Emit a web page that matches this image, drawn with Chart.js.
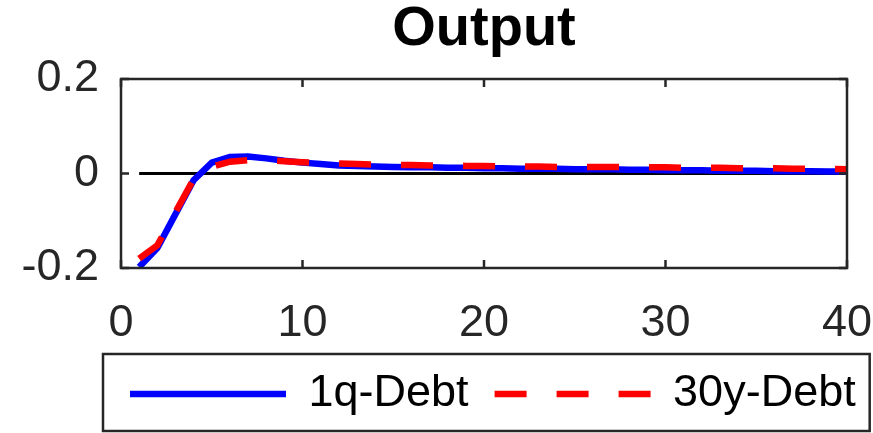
<!DOCTYPE html>
<html><head><meta charset="utf-8">
<script src="https://cdn.jsdelivr.net/npm/chart.js@4.4.1/dist/chart.umd.min.js"></script>
<style>html,body{margin:0;padding:0;background:#fff;overflow:hidden}</style>
</head><body>
<canvas id="c" width="873" height="433" style="display:block;width:873px;height:433px"></canvas>
<script>
const chartTitle = 'Output';
const periods = [1,2,3,4,5,6,7,8,9,10,11,12,13,14,15,16,17,18,19,20,21,22,23,24,25,26,27,28,29,30,31,32,33,34,35,36,37,38,39,40];
const debt1q = [-0.198,-0.158,-0.086,-0.014,0.023,0.035,0.036,0.032,0.027,0.023,0.020,0.017,0.016,0.015,0.014,0.013,0.013,0.012,0.012,0.011,0.011,0.010,0.010,0.010,0.009,0.009,0.009,0.008,0.008,0.007,0.007,0.007,0.006,0.006,0.006,0.005,0.005,0.005,0.004,0.004];
const debt30y = [-0.180,-0.152,-0.082,-0.012,0.014,0.025,0.028,0.028,0.026,0.024,0.022,0.021,0.020,0.019,0.018,0.018,0.017,0.017,0.016,0.016,0.015,0.015,0.015,0.014,0.014,0.014,0.014,0.013,0.013,0.013,0.012,0.012,0.012,0.011,0.011,0.011,0.010,0.010,0.010,0.009];
const zeroLevel = 0;
const seriesNames = ['1q-Debt', '30y-Debt'];
const xTicks = [0, 10, 20, 30, 40];
const yTicks = [-0.2, 0, 0.2];

const pts = arr => periods.map((p, i) => ({x: p, y: arr[i]}));
const FONT = '"Liberation Sans", Arial, sans-serif';

const framePlugin = {
  id: 'frame',
  beforeDraw(chart) {
    const lg = chart.legend;
    if (!lg || !lg.legendHitBoxes || !lg.legendHitBoxes.length) return;
    const dx = 130 - lg.legendHitBoxes[0].left;
    lg.left += dx; lg.right += dx;
    lg.legendHitBoxes.forEach(h => { h.left += dx; });
  },
  afterDraw(chart) {
    const {ctx, chartArea: a, scales: {x, y}} = chart;
    ctx.save();
    ctx.strokeStyle = '#262626';
    ctx.lineWidth = 2.5;
    ctx.setLineDash([]);
    ctx.strokeRect(a.left, a.top, a.right - a.left, a.bottom - a.top);
    const tl = 8;
    ctx.beginPath();
    xTicks.forEach(v => {
      const px = x.getPixelForValue(v);
      ctx.moveTo(px, a.top); ctx.lineTo(px, a.top + tl);
      ctx.moveTo(px, a.bottom); ctx.lineTo(px, a.bottom - tl);
    });
    yTicks.forEach(v => {
      const py = y.getPixelForValue(v);
      ctx.moveTo(a.left, py); ctx.lineTo(a.left + tl, py);
      ctx.moveTo(a.right, py); ctx.lineTo(a.right - tl, py);
    });
    ctx.stroke();
    const hb = chart.legend.legendHitBoxes;
    if (hb && hb.length) {
      const last = hb[hb.length - 1];
      const l = hb[0].left - 27, r = last.left + last.width + 14;
      const t = hb[0].top - 17.5, b = hb[0].top + hb[0].height + 14.5;
      ctx.strokeRect(l, t, r - l, b - t);
    }
    ctx.restore();
  }
};

new Chart(document.getElementById('c'), {
  type: 'line',
  data: {
    datasets: [
      {label: seriesNames[0], data: pts(debt1q), borderColor: '#0000ff', backgroundColor: '#0000ff',
       borderWidth: 6.5, pointRadius: 0, tension: 0, order: 1},
      {label: seriesNames[1], data: pts(debt30y), borderColor: '#ff0000', backgroundColor: '#ff0000',
       borderWidth: 6.5, borderDash: [32, 30], pointRadius: 0, tension: 0, order: 0},
      {label: 'zero', data: periods.map(p => ({x: p, y: zeroLevel})), borderColor: '#000000',
       borderWidth: 3, pointRadius: 0, tension: 0, order: 2}
    ]
  },
  options: {
    responsive: false,
    animation: false,
    devicePixelRatio: 1,
    layout: {padding: {left: 0, right: 26, top: 0, bottom: 6.5}},
    scales: {
      x: {
        type: 'linear', min: 0, max: 40,
        grid: {display: false, drawTicks: false},
        border: {display: false},
        afterBuildTicks: s => { s.ticks = xTicks.map(v => ({value: v})); },
        afterFit: s => { s.height = 77.5; s.paddingRight = 0; s.paddingLeft = 0; },
        ticks: {font: {family: FONT, size: 45}, color: '#262626', padding: 29, maxRotation: 0, autoSkip: false}
      },
      y: {
        type: 'linear', min: -0.2, max: 0.2,
        grid: {display: false, drawTicks: false},
        border: {display: false},
        afterBuildTicks: s => { s.ticks = yTicks.map(v => ({value: v})); },
        afterFit: s => { s.width = 121; s.paddingTop = 0; s.paddingBottom = 0; },
        ticks: {font: {family: FONT, size: 45}, color: '#262626', padding: 22,
                callback: v => String(v)}
      }
    },
    plugins: {
      title: {display: true, text: chartTitle, fullSize: false, color: '#000',
              font: {family: FONT, size: 56, weight: 'bold', lineHeight: 1},
              padding: {top: 2, bottom: 21}},
      legend: {
        position: 'bottom',
        labels: {
          usePointStyle: true, pointStyle: 'line', pointStyleWidth: 156,
          padding: 26, color: '#000',
          font: {family: FONT, size: 45},
          generateLabels: chart => Chart.defaults.plugins.legend.labels.generateLabels(chart).map(it => {
            const ds = chart.data.datasets[it.datasetIndex];
            it.lineDash = ds.borderDash || [];
            it.lineWidth = ds.borderWidth;
            it.strokeStyle = ds.borderColor;
            return it;
          }),
          filter: item => item.datasetIndex < 2,
          sort: (a, b) => a.datasetIndex - b.datasetIndex
        }
      },
      tooltip: {enabled: false}
    }
  },
  plugins: [framePlugin]
});
</script>
</body></html>
